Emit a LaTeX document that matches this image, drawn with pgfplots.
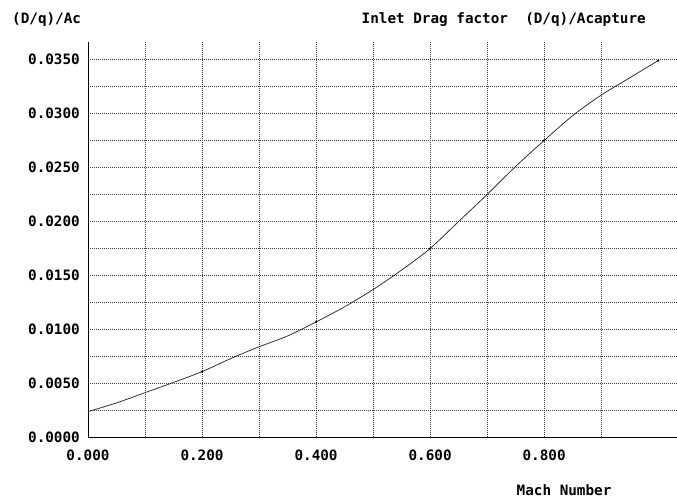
\documentclass[border=0pt]{standalone}
\usepackage{fontspec}
\setmainfont{DejaVu Sans Mono}
\usepackage{pgfplots}
\pgfplotsset{compat=1.18}
\newcommand\cf{\fontsize{14.3bp}{16bp}\selectfont\bfseries}
\begin{document}
\begin{tikzpicture}[x=1bp,y=1bp]
\useasboundingbox (0,0) rectangle (677,500);
\begin{axis}[
  at={(88bp,62.5bp)}, anchor=south west,
  scale only axis, width=589bp, height=395.5bp,
  xmin=0, xmax=1.033, ymin=0, ymax=0.03662,
  axis x line=bottom, axis y line=left,
  axis line style={-, black, line width=1bp},
  xtick={0,0.2,0.4,0.6,0.8}, minor xtick={0.1,0.3,0.5,0.7,0.9},
  ytick={0,0.005,...,0.0351}, minor ytick={0.0025,0.0075,...,0.033},
  major tick length=0pt, minor tick length=0pt,
  grid=both,
  major grid style={black!75, line width=0.8bp, dash pattern=on 1bp off 1bp},
  minor grid style={black!75, line width=0.8bp, dash pattern=on 1bp off 1bp},
  /pgf/number format/assume math mode=true,
  xticklabel={\pgfmathprintnumber[fixed,fixed zerofill,precision=3]{\tick}},
  yticklabel={\pgfmathprintnumber[fixed,fixed zerofill,precision=4]{\tick}},
  scaled y ticks=false, scaled x ticks=false,
  ticklabel style={font=\cf, inner sep=0pt},
  xticklabel style={anchor=north, yshift=-12.5bp},
  yticklabel style={anchor=east, xshift=-8bp},
  clip=false,
]
% drag factor versus Mach number
\addplot[black!80, line width=0.8bp, smooth] coordinates {
  (0.00,0.0024) (0.05,0.0032) (0.10,0.00415) (0.15,0.0051) (0.20,0.0061)
  (0.25,0.0073) (0.30,0.0084) (0.35,0.0094) (0.40,0.0107) (0.45,0.0121)
  (0.50,0.0137) (0.55,0.0155) (0.60,0.0175) (0.65,0.0200) (0.70,0.0225)
  (0.75,0.0251) (0.80,0.0275) (0.85,0.0298) (0.90,0.0317) (0.95,0.0333)
  (1.00,0.0349)
};
\addplot[only marks, mark=*, mark size=0.9bp, black] coordinates {
  (0.20,0.0061) (0.40,0.0107) (0.60,0.0175) (0.80,0.0275) (1.00,0.0349)
};
\end{axis}
\node[anchor=west, inner sep=0pt, font=\cf] at (12,480) {(D/q)/Ac};
\node[anchor=west, inner sep=0pt, font=\cf] at (361.5,480) {Inlet Drag factor~~(D/q)/Acapture};
\node[anchor=west, inner sep=0pt, font=\cf] at (516.5,10) {Mach Number};
\end{tikzpicture}
\end{document}
